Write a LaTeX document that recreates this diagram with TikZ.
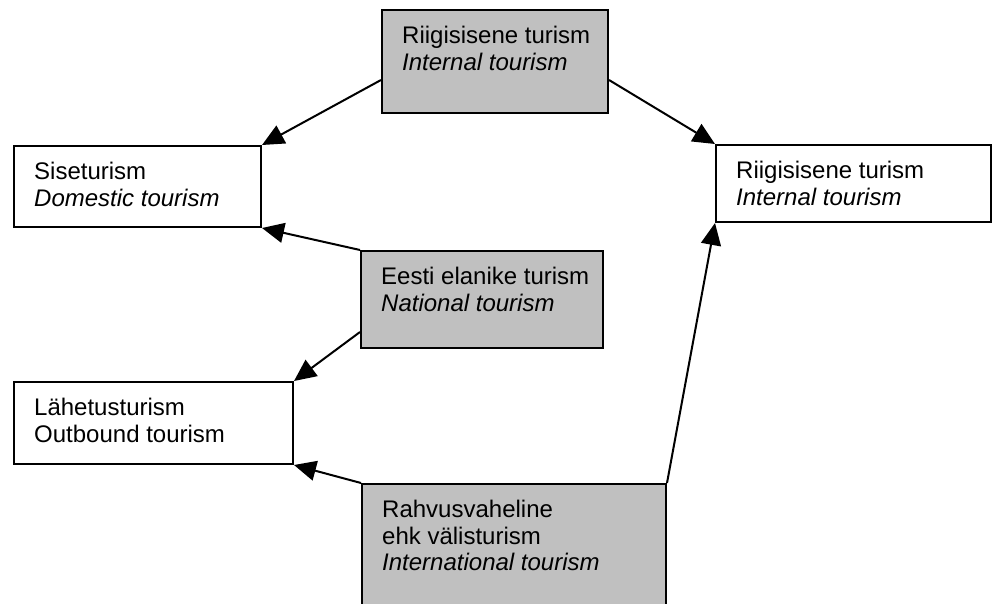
\documentclass[tikz,border=0pt]{standalone}
\usepackage{fontspec}
\setmainfont{Liberation Sans}
\usetikzlibrary{arrows.meta}
\definecolor{boxgray}{RGB}{192,192,192}
\begin{document}
\begin{tikzpicture}[x=1pt,y=-1pt,
  box/.style={draw, line width=2pt, anchor=north west, inner sep=0pt},
  gbox/.style={box, fill=boxgray},
  lbl/.style={anchor=north west, inner sep=0pt, align=left, font=\fontsize{24}{26.5}\selectfont},
  arr/.style={line width=2pt, -{Triangle[length=22pt,width=20pt]}}]
\useasboundingbox (0,0) rectangle (996,604);
% boxes
\node[gbox, minimum width=226pt, minimum height=103pt] (top) at (381,9) {};
\node[box, minimum width=247pt, minimum height=81pt] (sis) at (13,145) {};
\node[box, minimum width=275pt, minimum height=77pt] (rig) at (715,144) {};
\node[gbox, minimum width=242pt, minimum height=97pt] (ees) at (360,250) {};
\node[box, minimum width=279pt, minimum height=82pt] (lah) at (13,381) {};
\node[gbox, minimum width=304pt, minimum height=140pt] (rah) at (361,483) {};
% labels
\node[lbl] (ttop) at ([shift={(21pt,-17pt)}]top.north west) {Riigisisene turism\\\textit{Internal tourism}};
\node[lbl] (tsis) at ([shift={(21pt,-17pt)}]sis.north west) {Siseturism\\\textit{Domestic tourism}};
\node[lbl] (trig) at ([shift={(21pt,-17pt)}]rig.north west) {Riigisisene turism\\\textit{Internal tourism}};
\node[lbl] (tees) at ([shift={(21pt,-17pt)}]ees.north west) {Eesti elanike turism\\\textit{National tourism}};
\node[lbl] (tlah) at ([shift={(21pt,-17pt)}]lah.north west) {Lähetusturism\\Outbound tourism};
\node[lbl] (trah) at ([shift={(21pt,-17pt)}]rah.north west) {Rahvusvaheline\\ehk välisturism\\\textit{International tourism}};
% arrows
\draw[arr] ([yshift=-71pt]top.north west) -- (sis.north east);
\draw[arr] ([yshift=-71pt]top.north east) -- (rig.north west);
\draw[arr] (ees.north west) -- (sis.south east);
\draw[arr] ([yshift=-82pt]ees.north west) -- (lah.north east);
\draw[arr] (rah.north west) -- (lah.south east);
\draw[arr] (rah.north east) -- (rig.south west);
\end{tikzpicture}
\end{document}
